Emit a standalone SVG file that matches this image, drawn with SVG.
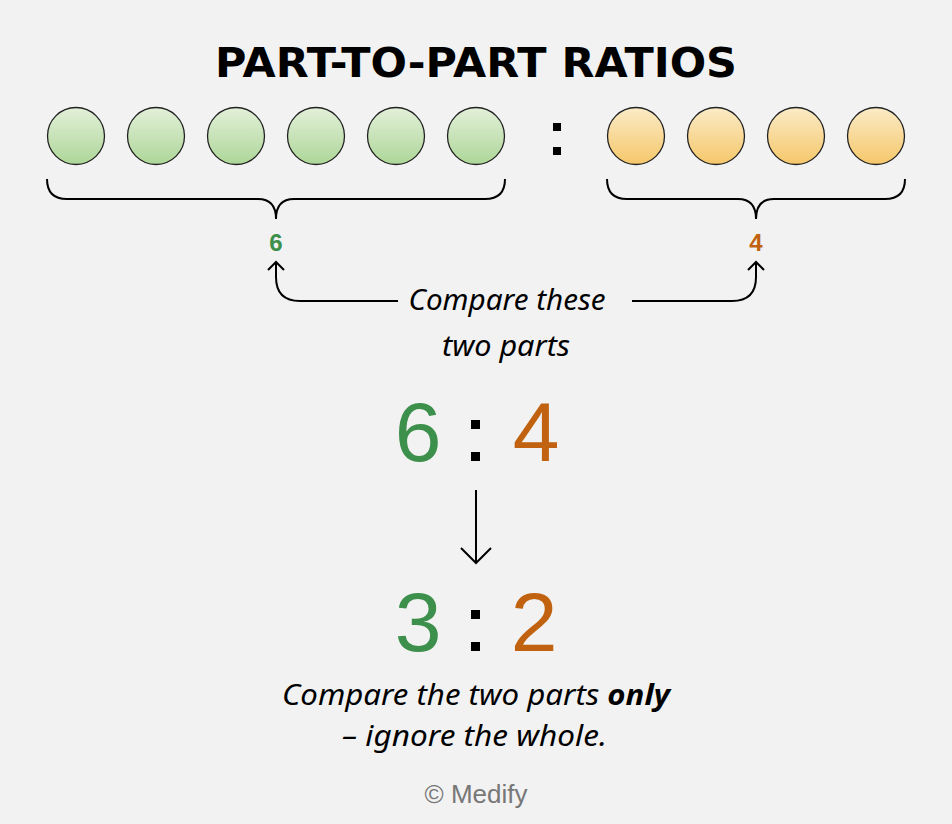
<svg xmlns="http://www.w3.org/2000/svg" width="952" height="824" viewBox="0 0 952 824">
<defs>
<linearGradient id="gg" x1="0" y1="0" x2="0" y2="1"><stop offset="0" stop-color="#e3f0d9"/><stop offset="1" stop-color="#add698"/></linearGradient>
<linearGradient id="og" x1="0" y1="0" x2="0" y2="1"><stop offset="0" stop-color="#fbebc6"/><stop offset="1" stop-color="#f5c76a"/></linearGradient>
<style>
.g{fill:url(#gg);stroke:#222;stroke-width:1.3}
.o{fill:url(#og);stroke:#222;stroke-width:1.3}
.ln{fill:none;stroke:#000;stroke-width:2}
.hand{font-family:"Noto Sans","DejaVu Sans",sans-serif;font-style:italic;font-size:29px;fill:#000;text-anchor:middle}
.big{font-family:"Liberation Sans",Arial,sans-serif;font-size:84px;text-anchor:middle}
</style>
</defs>
<rect width="952" height="824" fill="#f2f2f2"/>
<text x="476" y="77" font-family="DejaVu Sans,Liberation Sans,sans-serif" font-weight="bold" font-size="41" text-anchor="middle" textLength="522" lengthAdjust="spacingAndGlyphs">PART-TO-PART RATIOS</text>
<g id="green-parts">
<circle class="g" cx="76" cy="136" r="28.5"/>
<circle class="g" cx="156" cy="136" r="28.5"/>
<circle class="g" cx="236" cy="136" r="28.5"/>
<circle class="g" cx="316" cy="136" r="28.5"/>
<circle class="g" cx="396" cy="136" r="28.5"/>
<circle class="g" cx="476" cy="136" r="28.5"/>
</g>
<g id="colon-top"><rect x="553" y="123" width="8" height="8"/><rect x="553" y="147" width="8" height="8"/></g>
<g id="orange-parts">
<circle class="o" cx="636" cy="136" r="28.5"/>
<circle class="o" cx="716" cy="136" r="28.5"/>
<circle class="o" cx="796" cy="136" r="28.5"/>
<circle class="o" cx="876" cy="136" r="28.5"/>
</g>
<g id="connectors">
<path class="ln" d="M47 179 Q47 199 67 199 L258 199 Q276 199 276 219 Q276 199 294 199 L485 199 Q505 199 505 179"/>
<path class="ln" d="M607 179 Q607 199 627 199 L738 199 Q756 199 756 219 Q756 199 774 199 L885 199 Q905 199 905 179"/>
<path class="ln" d="M398 301 L300 301 Q276 301 276 277 L276 262 M268 270 L276 262 L284 270"/>
<path class="ln" d="M632 301 L732 301 Q756 301 756 277 L756 262 M748 270 L756 262 L764 270"/>
<path class="ln" d="M476 490 L476 563 M461 548 L476 563 L491 548"/>
</g>
<g id="label-6"><text x="276" y="251" font-family="Liberation Sans,Arial,sans-serif" font-weight="bold" font-size="24" fill="#3d8f4c" text-anchor="middle">6</text></g>
<g id="label-4"><text x="756" y="251" font-family="Liberation Sans,Arial,sans-serif" font-weight="bold" font-size="24" fill="#c0620f" text-anchor="middle">4</text></g>
<g id="compare-label">
<text class="hand" x="507" y="310" textLength="197" lengthAdjust="spacingAndGlyphs">Compare these</text>
<text class="hand" x="506" y="356" textLength="128" lengthAdjust="spacingAndGlyphs">two parts</text>
</g>
<g id="ratio-64">
<text class="big" x="418" y="461" fill="#3d8f4c">6</text>
<rect x="471" y="420" width="9" height="9"/><rect x="471" y="452" width="9" height="9"/>
<text class="big" x="536" y="461" fill="#c0620f">4</text>
</g>
<g id="ratio-32">
<text class="big" x="418" y="651" fill="#3d8f4c">3</text>
<rect x="471" y="610" width="9" height="9"/><rect x="471" y="642" width="9" height="9"/>
<text class="big" x="534" y="651" fill="#c0620f">2</text>
</g>
<g id="note">
<text class="hand" x="476" y="705" font-size="31" textLength="388" lengthAdjust="spacingAndGlyphs">Compare the two parts <tspan font-weight="bold">only</tspan></text>
<text class="hand" x="474.5" y="746" font-size="31" textLength="265" lengthAdjust="spacingAndGlyphs">– ignore the whole.</text>
</g>
<text x="476" y="803" font-family="Liberation Sans,Arial,sans-serif" font-size="26" fill="#777" text-anchor="middle">© Medify</text>
</svg>
